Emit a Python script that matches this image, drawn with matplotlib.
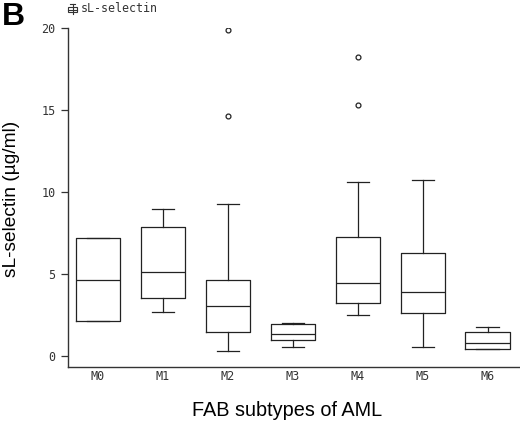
import matplotlib
matplotlib.use('Agg')
import matplotlib.pyplot as plt
from matplotlib.patches import Rectangle
from matplotlib.lines import Line2D

# values (ug/ml)
groups = ['M0', 'M1', 'M2', 'M3', 'M4', 'M5', 'M6']
q1 = [2.11, 3.52, 1.48, 0.96, 3.25, 2.60, 0.45]
med = [4.65, 5.10, 3.03, 1.36, 4.43, 3.92, 0.79]
q3 = [7.21, 7.85, 4.65, 1.97, 7.26, 6.30, 1.45]
wlo = [2.11, 2.70, 0.32, 0.57, 2.52, 0.55, 0.42]
whi = [7.21, 8.96, 9.27, 2.03, 10.60, 10.73, 1.77]
fliers = [[], [], [14.65, 19.86], [], [15.29, 18.25], [], []]

W, H = 520, 422
fig = plt.figure(figsize=(W / 100, H / 100), dpi=100)
ax = fig.add_axes([68 / W, (H - 367) / H, 1 - 68 / W, (367 - 28) / H])

stats = []
for i, g in enumerate(groups):
    stats.append(dict(label=g, q1=q1[i], med=med[i], q3=q3[i],
                      whislo=wlo[i], whishi=whi[i], fliers=fliers[i]))

lw = 0.9
ax.bxp(stats, positions=range(len(groups)), widths=0.68,
       boxprops=dict(color='#222222', linewidth=lw),
       medianprops=dict(color='#222222', linewidth=lw),
       whiskerprops=dict(color='#222222', linewidth=lw),
       capprops=dict(color='#222222', linewidth=lw),
       flierprops=dict(marker='o', markersize=3.5, markerfacecolor='none',
                       markeredgecolor='#222222', markeredgewidth=0.9),
       capwidths=0.34)

ax.set_xlim(-0.46, 6.5)
ax.set_ylim(-0.67, 20)
ax.set_yticks([0, 5, 10, 15, 20])
ax.spines['top'].set_visible(False)
ax.spines['right'].set_visible(False)
for s in ('left', 'bottom'):
    ax.spines[s].set_color('#333333')
    ax.spines[s].set_linewidth(1.0)
ax.tick_params(axis='x', length=0, pad=2, labelsize=8.5)
ax.tick_params(axis='y', length=5, width=0.9, pad=4, labelsize=8.5,
               color='#333333')
for t in ax.get_xticklabels() + ax.get_yticklabels():
    t.set_family('DejaVu Sans Mono')
    t.set_color('#333333')

fig.text(3 / W, 1 - 199 / H, 'sL-selectin (µg/ml)', family='Liberation Sans',
         fontsize=13.8, rotation=90, ha='left', va='center')
fig.text(287 / W, 1 - 416 / H, 'FAB subtypes of AML', family='Liberation Sans',
         fontsize=14.3, ha='center', va='baseline')

fig.text(2 / W, 1 - 25 / H, 'B', family='Liberation Sans', fontweight='bold',
         fontsize=23, va='baseline')

# legend glyph: small box-whisker symbol
fig.add_artist(Rectangle((68 / W, 1 - 12 / H), 9 / W, 5 / H, fill=False,
                         lw=0.8, color='#333333', transform=fig.transFigure))
fig.add_artist(Line2D([72.5 / W, 72.5 / W], [1 - 14 / H, 1 - 4 / H],
                      lw=0.8, color='#333333', transform=fig.transFigure))
fig.add_artist(Line2D([70 / W, 75 / W], [1 - 4 / H, 1 - 4 / H],
                      lw=0.8, color='#333333', transform=fig.transFigure))
fig.add_artist(Line2D([68 / W, 77 / W], [1 - 9.5 / H, 1 - 9.5 / H],
                      lw=0.8, color='#333333', transform=fig.transFigure))
fig.text(81 / W, 1 - 8.5 / H, 'sL-selectin', family='DejaVu Sans Mono',
         fontsize=8.4, va='center', color='#333333')

fig.savefig('out.png', dpi=100)
